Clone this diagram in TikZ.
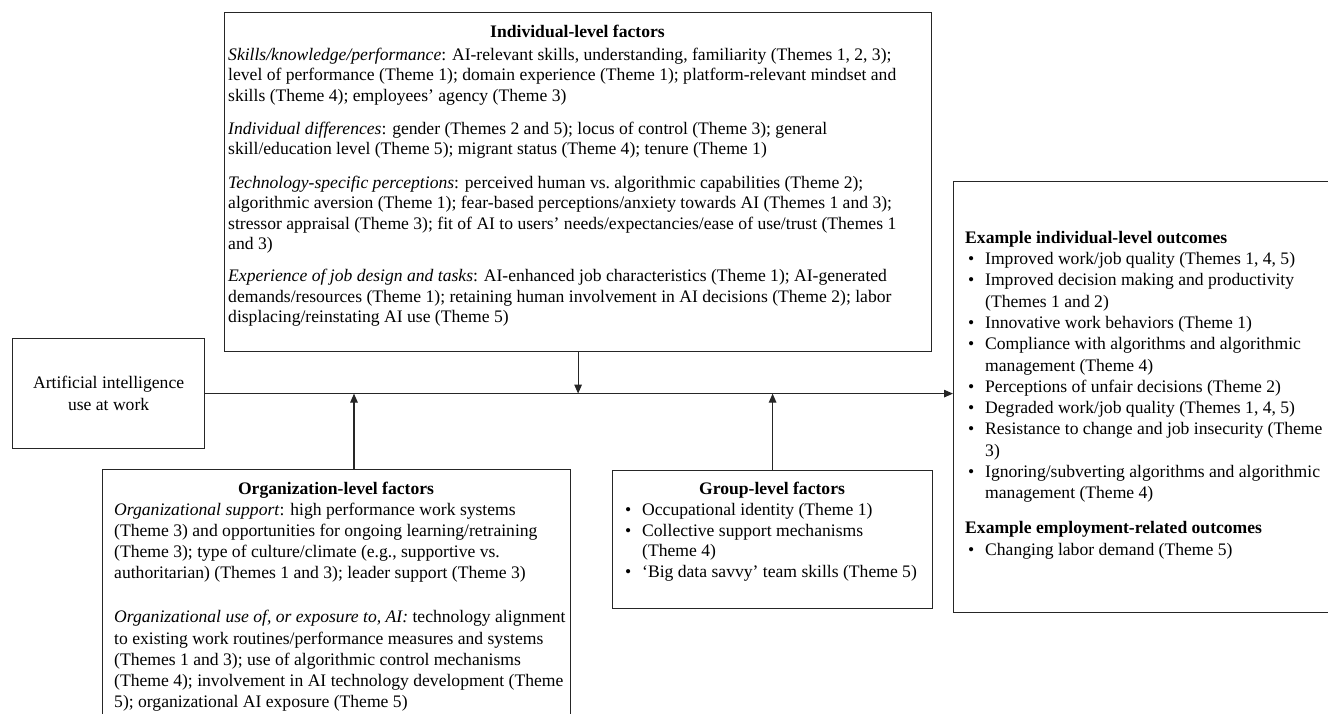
\documentclass[tikz,border=0pt]{standalone}
\usepackage{fontspec}
\setmainfont{Liberation Serif}
\usetikzlibrary{arrows.meta}
\newcommand\obul{\hspace*{3pt}\makebox[17pt][l]{•}}
\newcommand\oind{\hspace*{20pt}}
\tikzset{
  box/.style={draw=black!85, line width=1.2pt, inner sep=0pt, anchor=north west},
  arr/.style={draw=black!85, line width=1.2pt, -{Triangle[length=9pt,width=7.5pt]}},
  body/.style={inner sep=0pt, align=left, anchor=north west},
  ttl/.style={inner sep=0pt, anchor=base, font=\fontsize{17.6}{20.4}\selectfont\bfseries},
}
\begin{document}
\begin{tikzpicture}[x=1pt,y=-1pt]
\useasboundingbox (0,0) rectangle (1328,714);
% boxes
\node[box, minimum width=707pt, minimum height=339pt] (indiv) at (224,12) {};
\node[box, minimum width=192pt, minimum height=110pt] (ai) at (12,338) {};
\node[box, minimum width=468pt, minimum height=270pt] (org) at (102,469) {};
\node[box, minimum width=320pt, minimum height=138pt] (grp) at (612,470) {};
\node[box, minimum width=420pt, minimum height=431pt] (out) at (953,181) {};

% AI text
\node[align=center, inner sep=0pt, font=\fontsize{17.6}{21.5}\selectfont] (aitext) at (ai.center) {Artificial intelligence\\use at work};

% individual-level
\node[ttl] (indivtitle) at (577.5,38) {Individual-level factors};
\node[body, font=\fontsize{17.6}{20.4}\selectfont] (indivbody) at (228,46) {\rule{0pt}{14pt}\textit{Skills/knowledge/performance}: AI-relevant skills, understanding, familiarity (Themes 1, 2, 3);\\
level of performance (Theme 1); domain experience (Theme 1); platform-relevant mindset and\\
skills (Theme 4); employees’ agency (Theme 3)\\[12.6pt]
\textit{Individual differences}: gender (Themes 2 and 5); locus of control (Theme 3); general\\
skill/education level (Theme 5); migrant status (Theme 4); tenure (Theme 1)\\[13.6pt]
\textit{Technology-specific perceptions}: perceived human vs.\ algorithmic capabilities (Theme 2);\\
algorithmic aversion (Theme 1); fear-based perceptions/anxiety towards AI (Themes 1 and 3);\\
stressor appraisal (Theme 3); fit of AI to users’ needs/expectancies/ease of use/trust (Themes 1\\
and 3)\\[11.6pt]
\textit{Experience of job design and tasks}: AI-enhanced job characteristics (Theme 1); AI-generated\\
demands/resources (Theme 1); retaining human involvement in AI decisions (Theme 2); labor\\
displacing/reinstating AI use (Theme 5)};

% organization-level
\node[ttl] (orgtitle) at (336,494) {Organization-level factors};
\node[body, font=\fontsize{17.6}{21.2}\selectfont] (orgbody) at (114,501) {\rule{0pt}{14pt}\textit{Organizational support}: high performance work systems\\
(Theme 3) and opportunities for ongoing learning/retraining\\
(Theme 3); type of culture/climate (e.g., supportive vs.\\
authoritarian) (Themes 1 and 3); leader support (Theme 3)\\[22.8pt]
\textit{Organizational use of, or exposure to, AI:} technology alignment\\
to existing work routines/performance measures and systems\\
(Themes 1 and 3); use of algorithmic control mechanisms\\
(Theme 4); involvement in AI technology development (Theme\\
5); organizational AI exposure (Theme 5)};

% group-level
\node[ttl] (grptitle) at (772,494) {Group-level factors};
\node[body, font=\fontsize{17.6}{20.8}\selectfont] (grpbody) at (622,501) {\rule{0pt}{14pt}\obul Occupational identity (Theme 1)\\
\obul Collective support mechanisms\\
\oind (Theme 4)\\
\obul ‘Big data savvy’ team skills (Theme 5)};

% outcomes
\node[body, font=\fontsize{17.6}{21.3}\selectfont] (outbody) at (965,229) {\rule{0pt}{14pt}\textbf{Example individual-level outcomes}\\
\obul Improved work/job quality (Themes 1, 4, 5)\\
\obul Improved decision making and productivity\\
\oind (Themes 1 and 2)\\
\obul Innovative work behaviors (Theme 1)\\
\obul Compliance with algorithms and algorithmic\\
\oind management (Theme 4)\\
\obul Perceptions of unfair decisions (Theme 2)\\
\obul Degraded work/job quality (Themes 1, 4, 5)\\
\obul Resistance to change and job insecurity (Theme\\
\oind 3)\\
\obul Ignoring/subverting algorithms and algorithmic\\
\oind management (Theme 4)\\[13.7pt]
\textbf{Example employment-related outcomes}\\
\obul Changing labor demand (Theme 5)};

% connectors
\coordinate (orgx) at (354,0);
\draw[arr] (ai.east) -- (ai.east -| out.west);
\draw[arr] (indiv.south) -- (indiv.south |- ai.east);
\draw[arr] (org.north -| orgx) -- (orgx |- ai.east);
\draw[arr] (grp.north) -- (grp.north |- ai.east);
\end{tikzpicture}
\end{document}
